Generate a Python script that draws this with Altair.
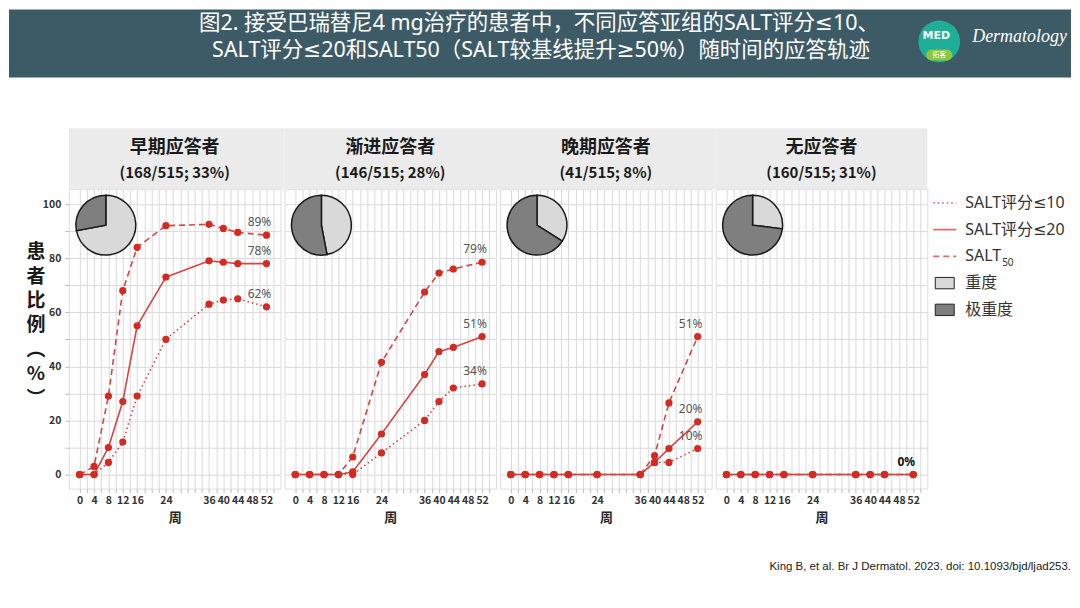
import altair as alt
import pandas as pd

# ---------------- data ----------------
weeks = [0, 4, 8, 12, 16, 24, 36, 40, 44, 52]
groups = ["早期应答者", "渐进应答者", "晚期应答者", "无应答者"]
group_counts = ["(168/515; 33%)", "(146/515; 28%)", "(41/515; 8%)", "(160/515; 31%)"]
series_names = ["SALT评分≤10", "SALT评分≤20", "SALT50"]

salt10_early = [0, 0, 4.5, 12, 29, 50, 63, 64.5, 65, 62]
salt20_early = [0, 0, 10, 27, 55, 73, 79, 78.5, 78, 78]
salt50_early = [0, 3, 29, 68, 84, 92, 92.5, 91, 89.5, 88.5]

salt10_gradual = [0, 0, 0, 0, 0, 8, 20, 27, 32, 33.5]
salt20_gradual = [0, 0, 0, 0, 1, 15, 37, 45.5, 47, 51]
salt50_gradual = [0, 0, 0, 0, 6.5, 41.5, 67.5, 74.5, 76, 78.5]

salt10_late = [0, 0, 0, 0, 0, 0, 0, 4.5, 4.5, 9.6]
salt20_late = [0, 0, 0, 0, 0, 0, 0, 4.5, 9.6, 19.5]
salt50_late = [0, 0, 0, 0, 0, 0, 0, 7, 26.5, 51]

salt10_non = [0, 0, 0, 0, 0, 0, 0, 0, 0, 0]
salt20_non = [0, 0, 0, 0, 0, 0, 0, 0, 0, 0]
salt50_non = [0, 0, 0, 0, 0, 0, 0, 0, 0, 0]

labels_early = ["62%", "78%", "89%"]
labels_gradual = ["34%", "51%", "79%"]
labels_late = ["10%", "20%", "51%"]
labels_non = ["", "0%", ""]

severe_pct = [72, 47, 34, 27]        # 重度
very_severe_pct = [28, 53, 66, 73]   # 极重度

x_tick_labels = [0, 4, 8, 12, 16, 24, 36, 40, 44, 48, 52]
y_tick_labels = [0, 20, 40, 60, 80, 100]

legend_labels = ["SALT评分≤10", "SALT评分≤20", "SALT", "重度", "极重度"]
severity_names = ["重度", "极重度"]

title_line1 = "图2. 接受巴瑞替尼4 mg治疗的患者中，不同应答亚组的SALT评分≤10、"
title_line2 = "SALT评分≤20和SALT50（SALT较基线提升≥50%）随时间的应答轨迹"
y_title_chars = ["患", "者", "比", "例", "︵", "%", "︶"]
footnote = "King B, et al. Br J Dermatol. 2023. doi: 10.1093/bjd/ljad253."

series_by_group = [
    [salt10_early, salt20_early, salt50_early],
    [salt10_gradual, salt20_gradual, salt50_gradual],
    [salt10_late, salt20_late, salt50_late],
    [salt10_non, salt20_non, salt50_non],
]
labels_by_group = [labels_early, labels_gradual, labels_late, labels_non]

# ---------------- styles ----------------
FONT = "Noto Sans CJK SC"
MIXFONT = "Noto Sans, DejaVu Sans, Noto Sans CJK SC"
LINE_COLOR = "#d64545"
POINT_COLOR = "#d42a22"
LEG_LINE = "#e06a6a"
W, H = 212, 300
SP = 4
dash_range = [[1.5, 3], [1, 0], [6, 4]]

x_scale = alt.Scale(domain=[-3, 55.9], nice=False, zero=False)
y_scale = alt.Scale(domain=[-5.2, 105.5], nice=False, zero=False)

x_grid_values = list(range(0, 56, 2))
y_grid_values = list(range(0, 101, 10))

xlab_expr = "indexof(" + str(x_tick_labels) + ", datum.value) >= 0 ? datum.label : ''"
ylab_expr = "indexof(" + str(y_tick_labels) + ", datum.value) >= 0 ? datum.label : ''"

x_axis = alt.Axis(values=x_grid_values, labelExpr=xlab_expr, labelOverlap=False,
                  labelFlush=False, grid=True,
                  gridColor="#dadada", gridWidth=1, domain=False, tickColor="#bdbdbd",
                  tickSize=4, labelPadding=3, labelFontSize=10.5, labelFontWeight="bold",
                  labelColor="#333", labelFont=FONT, title="周", titleFontSize=13,
                  titleFontWeight="bold", titleColor="#222", titlePadding=5, titleFont=FONT)
y_axis_first = alt.Axis(values=y_grid_values, labelExpr=ylab_expr, labelOverlap=False,
                        labelFlush=False, grid=True,
                        gridColor="#dadada", gridWidth=1, domain=False, tickColor="#bdbdbd",
                        tickSize=4, labelPadding=4, labelFontSize=10.5, labelFontWeight="bold",
                        labelColor="#333", labelFont=FONT, title=None)
y_axis_other = alt.Axis(values=y_grid_values, grid=True, gridColor="#dadada",
                        gridWidth=1, domain=False, ticks=False, labels=False, title=None)

one = pd.DataFrame({"a": [0]})


def make_panel(k):
    rows = []
    for s_idx, s_name in enumerate(series_names):
        for w, v in zip(weeks, series_by_group[k][s_idx]):
            rows.append({"week": w, "value": v, "series": s_name})
    d = pd.DataFrame(rows)
    lab = pd.DataFrame({
        "week": [weeks[-1]] * 3,
        "value": [series_by_group[k][i][-1] for i in range(3)],
        "label": labels_by_group[k],
    })
    lab = lab[lab["label"] != ""]
    pie = pd.DataFrame({"sev": severity_names, "pct": [severe_pct[k], very_severe_pct[k]], "ord": [0, 1]})

    x_enc = alt.X("week:Q", scale=x_scale, axis=x_axis)
    y_enc = alt.Y("value:Q", scale=y_scale, axis=y_axis_first if k == 0 else y_axis_other)

    strip = alt.Chart(one).mark_rect(color="#ebebeb").encode(
        x=alt.value(0), x2=alt.value(W + SP if k < 3 else W), y=alt.value(-61), y2=alt.value(0))
    head1 = alt.Chart(one).mark_text(font=FONT, fontSize=18, fontWeight="bold", color="#1a1a1a",
                                     baseline="middle").encode(
        x=alt.value(W / 2), y=alt.value(-41), text=alt.value(groups[k]))
    head2 = alt.Chart(one).mark_text(font=FONT, fontSize=15, fontWeight="bold", color="#1a1a1a",
                                     baseline="middle").encode(
        x=alt.value(W / 2), y=alt.value(-16), text=alt.value(group_counts[k]))

    lines = alt.Chart(d).mark_line(color=LINE_COLOR, strokeWidth=1.6).encode(
        x=x_enc, y=y_enc,
        strokeDash=alt.StrokeDash("series:N", scale=alt.Scale(domain=series_names, range=dash_range),
                                  legend=None),
        detail="series:N")
    pts = alt.Chart(d).mark_circle(size=52, color=POINT_COLOR, opacity=1).encode(
        x=x_enc, y=y_enc)
    texts = alt.Chart(lab).mark_text(font=MIXFONT, fontSize=12, dx=-7, dy=-13,
                                     color="#111" if k == 3 else "#555",
                                     fontWeight="bold" if k == 3 else "normal").encode(
        x=x_enc, y=y_enc, text="label:N")
    pies = alt.Chart(pie).mark_arc(radius=30, stroke="#1a1a1a", strokeWidth=1.5).encode(
        theta=alt.Theta("pct:Q", stack=True),
        color=alt.Color("sev:N", scale=alt.Scale(domain=severity_names, range=["#d9d9d9", "#7f7f7f"]),
                        legend=None),
        order=alt.Order("ord:Q"),
        x=alt.value(37), y=alt.value(36))

    layers = [lines, pts, texts, strip, head1, head2, pies]

    if k == 0:
        band = alt.Chart(one).mark_rect(color="#3d5b67").encode(
            x=alt.value(-60), x2=alt.value(1004), y=alt.value(-180), y2=alt.value(-112))
        t1 = alt.Chart(one).mark_text(font=MIXFONT, fontSize=21.5, color="white", baseline="middle").encode(
            x=alt.value(471), y=alt.value(-165), text=alt.value(title_line1))
        t2 = alt.Chart(one).mark_text(font=MIXFONT, fontSize=21.5, color="white", baseline="middle").encode(
            x=alt.value(473), y=alt.value(-138), text=alt.value(title_line2))
        logo = alt.Chart(one).mark_circle(size=1750, color="#1fae98", opacity=1).encode(
            x=alt.value(872), y=alt.value(-148))
        logo_b = alt.Chart(one).mark_rect(color="#8dc63f", cornerRadius=6).encode(
            x=alt.value(859), x2=alt.value(885), y=alt.value(-140), y2=alt.value(-129))
        logo_t = alt.Chart(one).mark_text(font="DejaVu Sans", fontSize=11, fontWeight="bold",
                                          color="white", baseline="middle").encode(
            x=alt.value(869), y=alt.value(-153), text=alt.value("MED"))
        logo_t2 = alt.Chart(one).mark_text(font=FONT, fontSize=7, color="white", baseline="middle").encode(
            x=alt.value(872), y=alt.value(-134.5), text=alt.value("拓客"))
        derm = alt.Chart(one).mark_text(font="Liberation Serif", fontStyle="italic", fontSize=18,
                                        color="white", align="left", baseline="middle").encode(
            x=alt.value(905), y=alt.value(-152), text=alt.value("Dermatology"))
        ytitle = alt.Chart(one).mark_text(font=FONT, fontSize=19, fontWeight="bold", color="#1a1a1a",
                                          lineHeight=24.5, baseline="middle").encode(
            x=alt.value(-33), y=alt.value(63), text=alt.value(y_title_chars))
        layers = layers + [band, t1, t2, logo, logo_b, logo_t, logo_t2, derm, ytitle]

    return alt.layer(*layers).properties(width=W, height=H)


panels = [make_panel(k) for k in range(4)]

# ---------------- legend panel ----------------
leg = pd.DataFrame({"idx": [0, 1, 2, 3, 4], "label": legend_labels})
leg_y = alt.Scale(domain=[-0.511, 10.683], reverse=True, nice=False, zero=False)

leg_line_layers = []
for i in range(3):
    leg_line_layers.append(
        alt.Chart(leg[leg["idx"] == i]).mark_rule(color=LEG_LINE, strokeWidth=1.6,
                                                  strokeDash=dash_range[i]).encode(
            x=alt.value(2), x2=alt.value(25), y=alt.Y("idx:Q", scale=leg_y, axis=None)))
leg_sq = alt.Chart(leg[leg["idx"] >= 3]).mark_point(
    shape="M-1,-0.6H1V0.6H-1Z", filled=True, size=361, stroke="#222", strokeWidth=1, opacity=1).encode(
    x=alt.value(13.5), y=alt.Y("idx:Q", scale=leg_y, axis=None),
    fill=alt.Fill("label:N", scale=alt.Scale(domain=severity_names, range=["#d9d9d9", "#7f7f7f"]),
                  legend=None))
leg_txt = alt.Chart(leg).mark_text(font=MIXFONT, fontSize=16, color="#333", align="left",
                                   baseline="middle").encode(
    x=alt.value(34), y=alt.Y("idx:Q", scale=leg_y, axis=None), text="label:N")
leg_sub = alt.Chart(leg[leg["idx"] == 2]).mark_text(font=MIXFONT, fontSize=10, color="#333", align="left",
                                                    baseline="middle", dy=7).encode(
    x=alt.value(71), y=alt.Y("idx:Q", scale=leg_y, axis=None), text=alt.value("50"))
foot = alt.Chart(one).mark_text(font="Liberation Sans", fontSize=11.5, color="#222", align="right",
                                baseline="middle").encode(
    x=alt.value(140), y=alt.value(379), text=alt.value(footnote))

legend_panel = alt.layer(*leg_line_layers, leg_sq, leg_txt, leg_sub, foot).properties(
    width=140, height=H, view=alt.ViewBackground(stroke="transparent"))

chart = alt.hconcat(*panels, legend_panel, spacing=SP, bounds="flush").properties(
    padding=0, background="white"
).configure_view(stroke="#c4c4c4", strokeWidth=1.2).configure(font=FONT)

chart.save("out.html", embed_options={"renderer": "svg", "actions": False})
